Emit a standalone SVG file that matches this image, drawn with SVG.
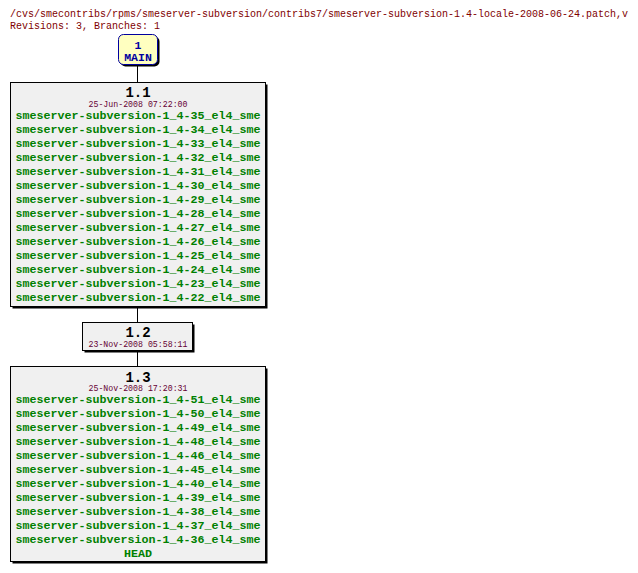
<svg xmlns="http://www.w3.org/2000/svg" width="638" height="573" viewBox="0 0 638 573">
<style>
.hdr{font-family:"Liberation Mono","DejaVu Sans Mono",monospace;font-size:10px;fill:#800000}
.box{fill:#f0f0f0;stroke:#000;stroke-width:1}
.shd{fill:#000}
.rev{font-family:"Liberation Mono","DejaVu Sans Mono",monospace;font-size:14px;font-weight:bold;fill:#000;text-anchor:middle}
.date{font-family:"Liberation Mono","DejaVu Sans Mono",monospace;font-size:8.25px;fill:#660033;text-anchor:middle}
.tag{font-family:"Liberation Mono","DejaVu Sans Mono",monospace;font-size:11.67px;font-weight:bold;fill:#008000;text-anchor:middle}
.br{font-family:"Liberation Mono","DejaVu Sans Mono",monospace;font-size:11.5px;font-weight:bold;fill:#0000a0;text-anchor:middle}
.conn line{stroke:#000;stroke-width:1}
</style>
<rect width="638" height="573" fill="#fff"/>
<text class="hdr" x="10" y="17">/cvs/smecontribs/rpms/smeserver-subversion/contribs7/smeserver-subversion-1.4-locale-2008-06-24.patch,v</text>
<text class="hdr" x="10" y="29">Revisions: 3, Branches: 1</text>
<g id="connectors" class="conn">
<line x1="137.5" y1="66" x2="137.5" y2="83"/>
<line x1="137.5" y1="308" x2="137.5" y2="323"/>
<line x1="137.5" y1="352" x2="137.5" y2="367"/>
</g>
<g id="MAIN">
<rect x="120.5" y="36.5" width="39" height="30" rx="5" fill="#000"/>
<rect x="118.5" y="34.5" width="39" height="30" rx="5" fill="#ffffc0" stroke="#0000a0" stroke-width="1"/>
<text class="br" x="138" y="48.5">1</text>
<text class="br" x="138" y="61">MAIN</text>
</g>
<g id="r1.1">
<rect class="shd" x="12.5" y="84.5" width="255" height="224"/>
<rect class="box" x="10.5" y="82.5" width="255" height="224"/>
<text class="rev" x="138" y="97">1.1</text>
<text class="date" x="138" y="106.5">25-Jun-2008 07:22:00</text>
<text class="tag" x="138" y="118.5">smeserver-subversion-1_4-35_el4_sme</text>
<text class="tag" x="138" y="132.5">smeserver-subversion-1_4-34_el4_sme</text>
<text class="tag" x="138" y="146.5">smeserver-subversion-1_4-33_el4_sme</text>
<text class="tag" x="138" y="160.5">smeserver-subversion-1_4-32_el4_sme</text>
<text class="tag" x="138" y="174.5">smeserver-subversion-1_4-31_el4_sme</text>
<text class="tag" x="138" y="188.5">smeserver-subversion-1_4-30_el4_sme</text>
<text class="tag" x="138" y="202.5">smeserver-subversion-1_4-29_el4_sme</text>
<text class="tag" x="138" y="216.5">smeserver-subversion-1_4-28_el4_sme</text>
<text class="tag" x="138" y="230.5">smeserver-subversion-1_4-27_el4_sme</text>
<text class="tag" x="138" y="244.5">smeserver-subversion-1_4-26_el4_sme</text>
<text class="tag" x="138" y="258.5">smeserver-subversion-1_4-25_el4_sme</text>
<text class="tag" x="138" y="272.5">smeserver-subversion-1_4-24_el4_sme</text>
<text class="tag" x="138" y="286.5">smeserver-subversion-1_4-23_el4_sme</text>
<text class="tag" x="138" y="300.5">smeserver-subversion-1_4-22_el4_sme</text>
</g>
<g id="r1.2">
<rect class="shd" x="84.5" y="324.5" width="110" height="28"/>
<rect class="box" x="82.5" y="322.5" width="110" height="28"/>
<text class="rev" x="138" y="337">1.2</text>
<text class="date" x="138" y="347">23-Nov-2008 05:58:11</text>
</g>
<g id="r1.3">
<rect class="shd" x="12.5" y="368.5" width="255" height="195"/>
<rect class="box" x="10.5" y="366.5" width="255" height="195"/>
<text class="rev" x="138" y="381.5">1.3</text>
<text class="date" x="138" y="391">25-Nov-2008 17:20:31</text>
<text class="tag" x="138" y="402.5">smeserver-subversion-1_4-51_el4_sme</text>
<text class="tag" x="138" y="416.5">smeserver-subversion-1_4-50_el4_sme</text>
<text class="tag" x="138" y="430.5">smeserver-subversion-1_4-49_el4_sme</text>
<text class="tag" x="138" y="444.5">smeserver-subversion-1_4-48_el4_sme</text>
<text class="tag" x="138" y="458.5">smeserver-subversion-1_4-46_el4_sme</text>
<text class="tag" x="138" y="472.5">smeserver-subversion-1_4-45_el4_sme</text>
<text class="tag" x="138" y="486.5">smeserver-subversion-1_4-40_el4_sme</text>
<text class="tag" x="138" y="500.5">smeserver-subversion-1_4-39_el4_sme</text>
<text class="tag" x="138" y="514.5">smeserver-subversion-1_4-38_el4_sme</text>
<text class="tag" x="138" y="528.5">smeserver-subversion-1_4-37_el4_sme</text>
<text class="tag" x="138" y="542.5">smeserver-subversion-1_4-36_el4_sme</text>
<text class="tag" x="138" y="556.5">HEAD</text>
</g>
</svg>
